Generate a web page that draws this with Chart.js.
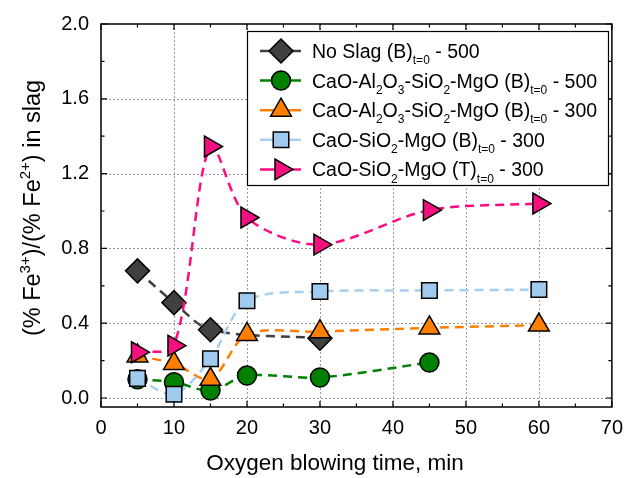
<!DOCTYPE html>
<html>
<head>
<meta charset="utf-8">
<script src="https://cdn.jsdelivr.net/npm/chart.js@4.4.0/dist/chart.umd.min.js"></script>
<style>
  html, body { margin: 0; padding: 0; background: #fff; }
</style>
</head>
<body>
<canvas id="chart" width="632" height="478"></canvas>
<script>
// data
const noSlagTime = [5, 10, 15, 30];
const noSlag = [0.68, 0.51, 0.365, 0.32];
const casm500Time = [5, 10, 15, 20, 30, 45];
const casm500 = [0.10, 0.085, 0.04, 0.12, 0.11, 0.19];
const casm300Time = [5, 10, 15, 20, 30, 45, 60];
const casm300 = [0.225, 0.185, 0.10, 0.34, 0.355, 0.375, 0.39];
const csmBTime = [5, 10, 15, 20, 30, 45, 60];
const csmB = [0.105, 0.02, 0.21, 0.52, 0.57, 0.575, 0.58];
const csmTTime = [5, 10, 15, 20, 30, 45, 60];
const csmT = [0.245, 0.28, 1.345, 0.965, 0.82, 1.005, 1.04];

const seriesLabels = [
  "No Slag (B)_{t=0} - 500",
  "CaO-Al_{2}O_{3}-SiO_{2}-MgO (B)_{t=0} - 500",
  "CaO-Al_{2}O_{3}-SiO_{2}-MgO (B)_{t=0} - 300",
  "CaO-SiO_{2}-MgO (B)_{t=0} - 300",
  "CaO-SiO_{2}-MgO (T)_{t=0} - 300"
];
const xTicks = [0, 10, 20, 30, 40, 50, 60, 70];
const yTicks = [0.0, 0.4, 0.8, 1.2, 1.6, 2.0];
const xTitle = "Oxygen blowing time, min";
const yTitle = "(% Fe^{3+})/(% Fe^{2+}) in slag";

const FONT = '"Liberation Sans", Arial, sans-serif';

function pts(xs, ys) {
  return xs.map((x, i) => ({ x: x, y: ys[i] }));
}

const styles = [
  { line: "#404040", fill: "#404040", shape: "rectRot", r: 12, rot: 0 },
  { line: "#008000", fill: "#008000", shape: "circle", r: 9.5, rot: 0 },
  { line: "#ff8000", fill: "#ff8000", shape: "triangle", r: 12, rot: 0 },
  { line: "#a6cff0", fill: "#a0cbee", shape: "rect", r: 11, rot: 0 },
  { line: "#ff0a80", fill: "#f5107f", shape: "triangle", r: 12, rot: 90 }
];
const allData = [
  pts(noSlagTime, noSlag),
  pts(casm500Time, casm500),
  pts(casm300Time, casm300),
  pts(csmBTime, csmB),
  pts(csmTTime, csmT)
];

const datasets = allData.map((d, i) => ({
  label: seriesLabels[i],
  data: d,
  order: 5 - i,
  borderColor: styles[i].line,
  borderWidth: 2.5,
  borderDash: [9, 6],
  tension: 0.3,
  pointStyle: styles[i].shape,
  pointRotation: styles[i].rot,
  pointRadius: styles[i].r,
  pointHoverRadius: styles[i].r,
  pointBackgroundColor: styles[i].fill,
  pointBorderColor: "#000",
  pointBorderWidth: 1.5
}));

// draw text with _{sub} and ^{sup} pieces
function richText(ctx, str, x, y, size) {
  const parts = [];
  const re = /([_^])\{([^}]*)\}/g;
  let last = 0, m;
  while ((m = re.exec(str)) !== null) {
    if (m.index > last) parts.push({ t: str.slice(last, m.index), k: "n" });
    parts.push({ t: m[2], k: m[1] === "_" ? "sub" : "sup" });
    last = re.lastIndex;
  }
  if (last < str.length) parts.push({ t: str.slice(last), k: "n" });
  const small = Math.round(size * 0.62);
  let w = 0;
  for (const p of parts) {
    ctx.font = (p.k === "n" ? size : small) + "px " + FONT;
    p.w = ctx.measureText(p.t).width;
    w += p.w;
  }
  if (x === null) return w;
  let cx = x;
  ctx.textBaseline = "alphabetic";
  ctx.textAlign = "left";
  for (const p of parts) {
    ctx.font = (p.k === "n" ? size : small) + "px " + FONT;
    let dy = 0;
    if (p.k === "sub") dy = size * 0.32;
    if (p.k === "sup") dy = -size * 0.42;
    ctx.fillText(p.t, cx, y + dy);
    cx += p.w;
  }
  return w;
}

const decor = {
  id: "decor",
  beforeDatasetsDraw(chart) {
    const { ctx, chartArea: a, scales: { x, y } } = chart;
    ctx.save();
    ctx.strokeStyle = "#9a9a9a";
    ctx.lineWidth = 1;
    ctx.setLineDash([2, 2]);
    for (const v of xTicks) {
      if (v <= 0 || v >= 70) continue;
      const px = Math.round(x.getPixelForValue(v)) + 0.5;
      ctx.beginPath(); ctx.moveTo(px, a.top); ctx.lineTo(px, a.bottom); ctx.stroke();
    }
    for (const v of yTicks) {
      if (v >= 2.0) continue;
      const py = Math.round(y.getPixelForValue(v)) + 0.5;
      ctx.beginPath(); ctx.moveTo(a.left, py); ctx.lineTo(a.right, py); ctx.stroke();
    }
    ctx.restore();
  },
  afterDatasetsDraw(chart) {
    const { ctx, chartArea: a, scales: { x, y } } = chart;
    ctx.save();
    ctx.strokeStyle = "#000";
    ctx.lineWidth = 1.5;
    ctx.setLineDash([]);
    ctx.strokeRect(a.left, a.top, a.right - a.left, a.bottom - a.top);
    // inward ticks on all sides
    ctx.lineWidth = 1.2;
    for (let v = 0; v <= 70; v += 5) {
      const px = x.getPixelForValue(v);
      const len = v % 10 === 0 ? 6 : 3.5;
      ctx.beginPath();
      ctx.moveTo(px, a.bottom); ctx.lineTo(px, a.bottom - len);
      ctx.moveTo(px, a.top); ctx.lineTo(px, a.top + len);
      ctx.stroke();
    }
    for (let k = 0; k <= 10; k++) {
      const v = k * 0.2;
      const py = y.getPixelForValue(v);
      const len = k % 2 === 0 ? 6 : 3.5;
      ctx.beginPath();
      ctx.moveTo(a.left, py); ctx.lineTo(a.left + len, py);
      ctx.moveTo(a.right, py); ctx.lineTo(a.right - len, py);
      ctx.stroke();
    }

    // legend
    const bx = 247, by = 31, bw = 361, bh = 154;
    ctx.fillStyle = "#fff";
    ctx.fillRect(bx, by, bw, bh);
    ctx.lineWidth = 1.2;
    ctx.strokeStyle = "#000";
    ctx.strokeRect(bx + 0.5, by + 0.5, bw, bh);
    seriesLabels.forEach((lab, i) => {
      const cy = 51 + i * 29.6;
      const s = styles[i];
      ctx.strokeStyle = s.line;
      ctx.lineWidth = 2.5;
      ctx.beginPath(); ctx.moveTo(260, cy); ctx.lineTo(301, cy); ctx.stroke();
      ctx.fillStyle = s.fill;
      ctx.strokeStyle = "#000";
      ctx.lineWidth = 1.5;
      Chart.helpers.drawPoint(ctx, { pointStyle: s.shape, rotation: s.rot, radius: s.r, borderWidth: 1.5 }, 281, cy);
      ctx.fillStyle = "#000";
      richText(ctx, lab, 312, cy + 7, 19.5);
    });
    ctx.restore();
  },
  afterDraw(chart) {
    const { ctx } = chart;
    ctx.save();
    ctx.fillStyle = "#000";
    ctx.font = "22.5px " + FONT;
    ctx.textAlign = "center";
    ctx.textBaseline = "alphabetic";
    ctx.fillText(xTitle, 335, 470);
    const w = richText(ctx, yTitle, null, 0, 23.5);
    ctx.translate(40, 208);
    ctx.rotate(-Math.PI / 2);
    richText(ctx, yTitle, -w / 2, 0, 23.5);
    ctx.restore();
  }
};

new Chart(document.getElementById("chart"), {
  type: "line",
  data: { datasets: datasets },
  options: {
    responsive: false,
    animation: false,
    devicePixelRatio: 1,
    layout: { padding: { top: 20, right: 14, left: 0, bottom: 0 } },
    plugins: { legend: { display: false }, tooltip: { enabled: false } },
    scales: {
      x: {
        type: "linear",
        min: 0,
        max: 70,
        afterBuildTicks: (s) => { s.ticks = xTicks.map(v => ({ value: v })); },
        afterFit: (s) => { s.height = 71; },
        grid: { display: false, drawTicks: false },
        border: { display: false },
        ticks: { color: "#000", font: { family: FONT, size: 20 }, padding: 9, maxRotation: 0 }
      },
      y: {
        type: "linear",
        min: -0.048,
        max: 2.0,
        afterBuildTicks: (s) => { s.ticks = yTicks.map(v => ({ value: v })); },
        afterFit: (s) => { s.width = 101; },
        grid: { display: false, drawTicks: false },
        border: { display: false },
        ticks: {
          color: "#000", font: { family: FONT, size: 20 }, padding: 12,
          callback: (v) => Number(v).toFixed(1)
        }
      }
    }
  },
  plugins: [decor]
});
</script>
</body>
</html>
